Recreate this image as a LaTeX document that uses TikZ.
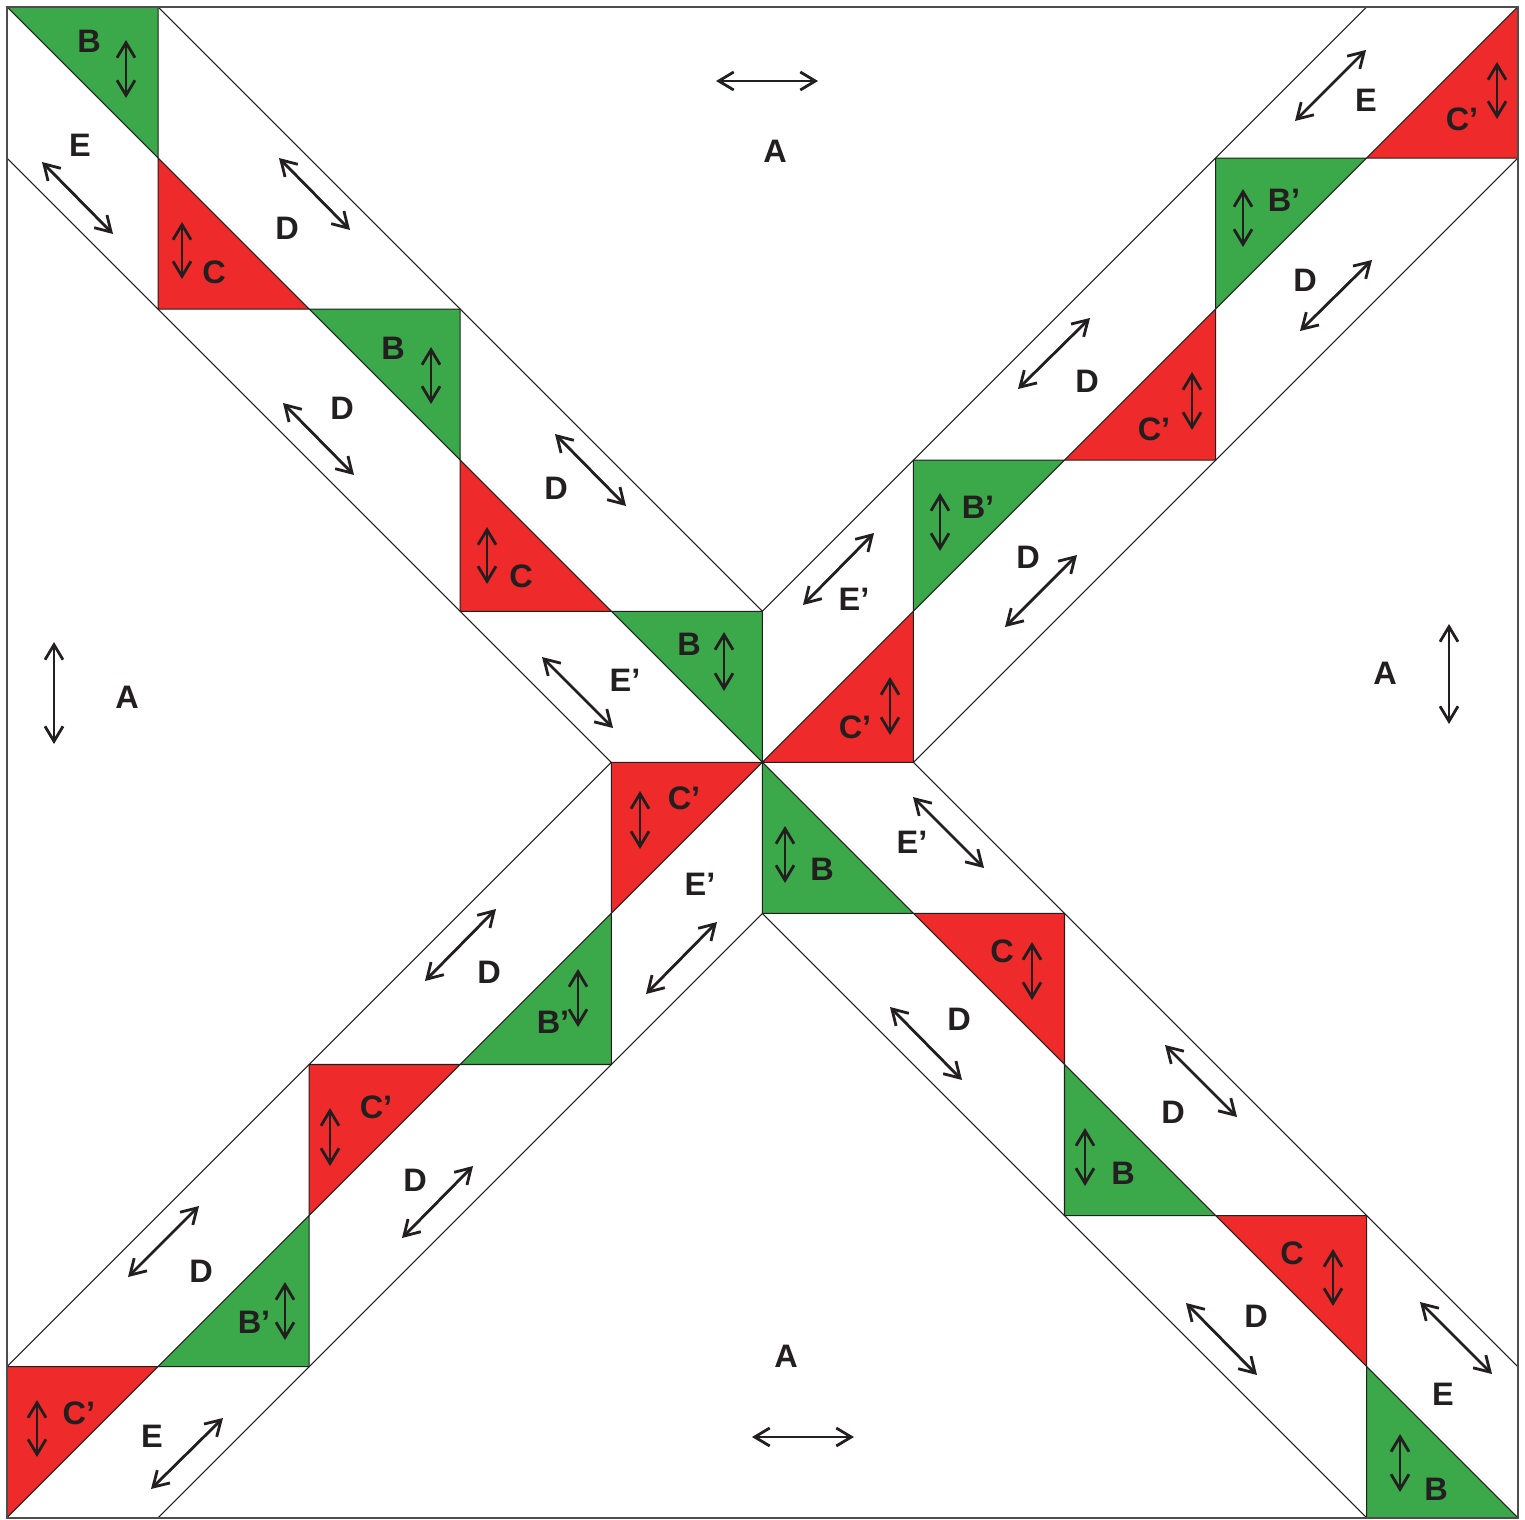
\documentclass[tikz,border=0pt]{standalone}
\usepackage{fontspec}
\setmainfont{Liberation Sans}
\usetikzlibrary{arrows.meta}
\definecolor{patchgreen}{HTML}{3BA84A}
\definecolor{patchred}{HTML}{EE2A2A}
\definecolor{ink}{HTML}{231F20}
\tikzset{
  seam/.style={draw=ink, line width=0.6pt},
  grain/.style={ink, line width=1.6pt, {Straight Barb[length=0.3cm,width=0.36cm]}-{Straight Barb[length=0.3cm,width=0.36cm]}},
  piece/.style={ink, font=\fontsize{18.5}{20}\selectfont\bfseries}
}
\begin{document}
\begin{tikzpicture}[x=0.02cm, y=-0.02cm]
    \useasboundingbox (0,0) rectangle (1525,1520);
    % the block, one unit per patch
    \begin{scope}[shift={(7,7)}, x=3.022cm, y=-3.022cm]
      \foreach \k in {0,2,4}
        \filldraw[seam, fill=patchgreen] (\k,\k) -- ({\k+1},\k) -- ({\k+1},{\k+1}) -- cycle;
      \foreach \k in {5,7,9}
        \filldraw[seam, fill=patchgreen] (\k,\k) -- (\k,{\k+1}) -- ({\k+1},{\k+1}) -- cycle;
      \foreach \k in {1,3}
        \filldraw[seam, fill=patchred] (\k,\k) -- (\k,{\k+1}) -- ({\k+1},{\k+1}) -- cycle;
      \foreach \k in {6,8}
        \filldraw[seam, fill=patchred] (\k,\k) -- ({\k+1},\k) -- ({\k+1},{\k+1}) -- cycle;
      \foreach \k in {0,2,4} {
        \filldraw[seam, fill=patchred] ({9-\k},{1+\k}) -- ({10-\k},{1+\k}) -- ({10-\k},\k) -- cycle;
        \filldraw[seam, fill=patchred] (\k,{9-\k}) -- ({\k+1},{9-\k}) -- (\k,{10-\k}) -- cycle;
      }
      \foreach \k in {1,3} {
        \filldraw[seam, fill=patchgreen] ({9-\k},\k) -- ({10-\k},\k) -- ({9-\k},{\k+1}) -- cycle;
        \filldraw[seam, fill=patchgreen] (\k,{10-\k}) -- ({\k+1},{10-\k}) -- ({\k+1},{9-\k}) -- cycle;
      }
      \draw[seam] (1,0) -- (5,4) -- (9,0);
      \draw[seam] (0,1) -- (4,5) -- (0,9);
      \draw[seam] (10,1) -- (6,5) -- (10,9);
      \draw[seam] (1,10) -- (5,6) -- (9,10);
      \draw[draw=ink!80, line width=1pt] (0,0) rectangle (10,10);
    \end{scope}
    % grain lines
    \foreach \xa/\ya/\xb/\yb in {126/40/126/98, 42/162/113/234, 182/222/182/279,
        279/158/350/230, 431/347/431/404, 283/403/354/475, 487/527/487/584,
        555/434/626/506, 724/632/724/691, 542/657/613/728,
        716/81/818/81, 54/642/54/744, 1449/624/1449/724, 752/1437/854/1437,
        1497/62/1497/119, 1295/121/1366/50, 1243/189/1243/247, 1300/331/1372/260,
        1018/389/1090/318, 1192/372/1192/430, 940/493/940/551, 1005/627/1077/555,
        803/605/874/533, 890/677/890/735,
        640/791/640/849, 646/994/717/922, 425/981/496/909, 578/969/578/1027,
        330/1108/330/1166, 402/1238/473/1166, 128/1277/199/1206, 285/1282/285/1340,
        37/1400/37/1457, 151/1489/223/1418,
        785/826/785/883, 913/797/984/868, 1032/942/1032/1000, 890/1007/962/1080,
        1165/1045/1237/1117, 1085/1128/1085/1186, 1333/1249/1333/1306,
        1186/1303/1257/1375, 1420/1302/1492/1374, 1400/1434/1400/1492}
      \draw[grain] (\xa,\ya) -- (\xb,\yb);
    % patch letters
    \foreach \x/\y/\t [count=\i] in {89/41/B, 80/145/E, 214/272/C, 287/228/D,
        393/348/B, 342/408/D, 521/576/C, 556/488/D, 689/644/B, 625/680/E’,
        775/151/A, 127/697/A, 1385/673/A, 786/1356/A,
        1462/119/C’, 1366/100/E, 1284/200/B’, 1305/280/D, 1087/381/D,
        1154/429/C’, 978/507/B’, 1028/557/D, 854/599/E’, 855/727/C’,
        684/798/C’, 700/884/E’, 489/972/D, 553/1022/B’, 376/1107/C’,
        415/1180/D, 201/1271/D, 254/1322/B’, 79/1413/C’, 152/1436/E,
        822/869/B, 912/842/E’, 1002/951/C, 959/1019/D, 1173/1112/D,
        1123/1173/B, 1292/1253/C, 1256/1316/D, 1443/1394/E, 1436/1489/B}
      \node[piece] (p\i) at (\x,\y) {\t};
\end{tikzpicture}
\end{document}
